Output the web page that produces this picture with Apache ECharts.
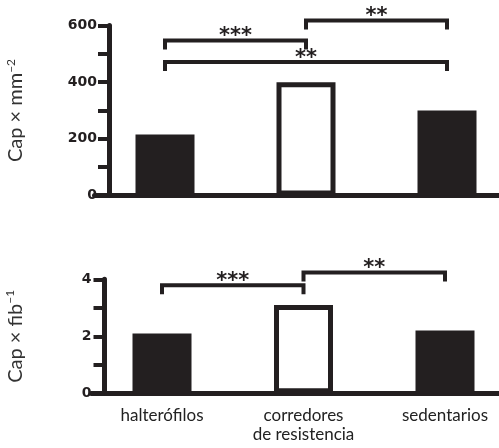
<!DOCTYPE html>
<html>
<head>
<meta charset="utf-8">
<script src="https://cdn.jsdelivr.net/npm/echarts@6/dist/echarts.min.js"></script>
<style>
  html, body { margin: 0; padding: 0; background: #fff; }
  #chart { width: 499px; height: 448px; }
</style>
</head>
<body>
<div id="chart"></div>
<script>
// Groups compared in both panels
const groups = ['halterófilos', 'corredores\nde resistencia', 'sedentarios'];

// Capillary density (Cap × mm⁻²) and capillaries per fibre (Cap × fib⁻¹)
const densityValues = [215, 400, 300];
const perFibreValues = [2.1, 3.1, 2.2];

// Value axis ranges and tick steps
const densityAxis = { min: 0, max: 600, interval: 200 };
const perFibreAxis = { min: 0, max: 4, interval: 2 };

// Significance brackets: [from group, to group, height in axis units]
const densityBrackets = [[0, 1, 547], [1, 2, 618], [0, 2, 471]];
const densityStars = ['***', '**', '**'];
const perFibreBrackets = [[0, 1, 3.79], [1, 2, 4.24]];
const perFibreStars = ['***', '**'];

// The endurance group is drawn as an open bar
const openGroup = 1;

const INK = '#231f20';
const chart = echarts.init(document.getElementById('chart'), null, { renderer: 'canvas' });

function barData(values) {
  return values.map((v, i) => i === openGroup
    ? { value: v, itemStyle: { color: '#fff', borderColor: INK, borderWidth: 5 } }
    : v);
}

function bracketSeries(idx, brackets, stars) {
  return {
    type: 'custom',
    xAxisIndex: idx,
    yAxisIndex: idx,
    silent: true,
    clip: false,
    z: 5,
    data: brackets,
    encode: { x: [0, 1], y: 2 },
    renderItem(params, api) {
      const a = api.coord([api.value(0), api.value(2)]);
      const b = api.coord([api.value(1), api.value(2)]);
      const drop = 9;
      return {
        type: 'group',
        children: [
          {
            type: 'polyline',
            shape: { points: [[a[0], a[1] + drop], [a[0], a[1]], [b[0], b[1]], [b[0], b[1] + drop]] },
            style: { fill: null, stroke: INK, lineWidth: 4 }
          },
          {
            type: 'text',
            style: {
              text: stars[params.dataIndex],
              x: (a[0] + b[0]) / 2,
              y: a[1] + 7,
              align: 'center',
              verticalAlign: 'bottom',
              font: 'bold 21px "DejaVu Sans"',
              fill: INK
            }
          }
        ]
      };
    }
  };
}

const yName = {
  nameLocation: 'middle',
  nameRotate: 90,
  nameTextStyle: {
    color: '#333',
    fontFamily: 'Lato',
    fontSize: 20,
    rich: {
      t: { fontFamily: 'Lato', fontSize: 20, color: '#333' },
      s: { fontFamily: 'Lato', fontSize: 12, color: '#333', verticalAlign: 'top', padding: [0, 0, 10, 0] }
    }
  }
};

function valueAxis(idx, range, name, gap, offset, labelMargin) {
  return Object.assign({
    type: 'value',
    gridIndex: idx,
    min: range.min,
    max: range.max,
    interval: range.interval,
    offset: offset,
    name: name,
    nameGap: gap,
    axisLine: { show: true, lineStyle: { color: INK, width: 5 } },
    axisTick: { show: true, length: 11, lineStyle: { color: INK, width: 4 } },
    minorTick: { show: true, splitNumber: 2, length: 11, lineStyle: { color: INK, width: 4 } },
    splitLine: { show: false },
    axisLabel: { margin: labelMargin, color: INK, fontFamily: 'DejaVu Sans', fontWeight: 'bold', fontSize: 14 }
  }, yName);
}

function categoryAxis(idx, showLabels) {
  return {
    type: 'category',
    gridIndex: idx,
    data: groups,
    boundaryGap: true,
    axisLine: { show: true, lineStyle: { color: INK, width: 5 } },
    axisTick: { show: false },
    axisLabel: {
      show: showLabels,
      interval: 0,
      margin: 13,
      color: '#222',
      fontFamily: 'Lato',
      fontSize: 17,
      lineHeight: 19
    }
  };
}

chart.setOption({
  animation: false,
  backgroundColor: '#fff',
  grid: [
    { left: 94.5, width: 423, top: 25.5, height: 170, outerBoundsMode: 'none' },
    { left: 91.25, width: 424.5, top: 279.3, height: 114, outerBoundsMode: 'none' }
  ],
  xAxis: [categoryAxis(0, false), categoryAxis(1, true)],
  yAxis: [
    valueAxis(0, densityAxis, '{t|Cap × mm}{s|−2}', 82, -14.5, 12),
    valueAxis(1, perFibreAxis, '{t|Cap × fib}{s|−1}', 78, -13.25, 13)
  ],
  series: [
    { type: 'bar', xAxisIndex: 0, yAxisIndex: 0, barWidth: 59, data: barData(densityValues), itemStyle: { color: INK } },
    { type: 'bar', xAxisIndex: 1, yAxisIndex: 1, barWidth: 59, data: barData(perFibreValues), itemStyle: { color: INK } },
    bracketSeries(0, densityBrackets, densityStars),
    bracketSeries(1, perFibreBrackets, perFibreStars)
  ]
});
</script>
</body>
</html>
